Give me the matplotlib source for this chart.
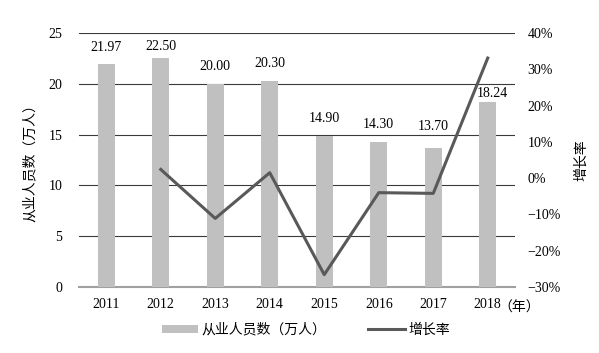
import matplotlib.pyplot as plt
from matplotlib.ticker import FuncFormatter, MultipleLocator
import numpy as np

################################################################################
# Data
################################################################################

years = ['2011', '2012', '2013', '2014', '2015', '2016', '2017', '2018']
employees = [21.97, 22.50, 20.00, 20.30, 14.90, 14.30, 13.70, 18.24]   # 万人
growth = [np.nan, 2.4, -11.1, 1.5, -26.6, -4.0, -4.2, 33.1]           # %

bar_label = '从业人员数（万人）'
line_label = '增长率'

################################################################################
# Style
################################################################################

plt.rcParams['font.family'] = ['Liberation Serif', 'Noto Sans CJK SC']
plt.rcParams['axes.unicode_minus'] = False
FONT = 10

bar_color = '#c0c0c0'
line_color = '#595959'
grid_color = '#3a3a3a'

fig = plt.figure(figsize=(5.99, 3.53), dpi=100)
ax = fig.add_axes([79 / 599, 1 - 287 / 353, 436 / 599, 254 / 353])
ax2 = ax.twinx()

x = np.arange(len(years))

################################################################################
# Bars (left axis)
################################################################################

bars = ax.bar(x, employees, width=0.31, color=bar_color, zorder=3,
              label=bar_label)

# offsets of value labels in points (dx, dy)
label_offsets = [(0, 7), (0, 4), (0, 8), (0, 8), (0, 8), (0, 8), (0, 11),
                 (3, 1.5)]
for xi, v, off in zip(x, employees, label_offsets):
    ax.annotate('{:.2f}'.format(v), (xi, v), xytext=off,
                textcoords='offset points', ha='center', va='bottom',
                fontsize=FONT, zorder=5)

ax.set_xlim(-0.5, len(years) - 0.5)
ax.set_ylim(0, 25)
ax.yaxis.set_major_locator(MultipleLocator(5))
ax.set_xticks(x)
ax.set_xticklabels(years)
ax.grid(axis='y', color=grid_color, linewidth=0.8, zorder=0)
ax.set_axisbelow(True)
ax.tick_params(axis='x', length=0, pad=8, labelsize=FONT)
ax.tick_params(axis='y', length=0, pad=12, labelsize=FONT)
ax.set_ylabel(bar_label, fontsize=FONT, labelpad=8)

for s in ['top', 'left', 'right']:
    ax.spines[s].set_visible(False)
ax.spines['bottom'].set_color('#a0a0a0')
ax.spines['bottom'].set_linewidth(1.5)

ax.text(0.962, -0.058, '（年）', transform=ax.transAxes, ha='left',
        va='top', fontsize=FONT)

################################################################################
# Growth line (right axis)
################################################################################

line, = ax2.plot(x, growth, color=line_color, linewidth=2.2, zorder=4,
                 label=line_label)
ax2.set_ylim(-30, 40)
ax2.yaxis.set_major_locator(MultipleLocator(10))
ax2.yaxis.set_major_formatter(FuncFormatter(
    lambda v, p: ('−' if v < 0 else '') + '{:d}%'.format(int(round(abs(v))))))
ax2.tick_params(axis='y', length=0, pad=9, labelsize=FONT)
ax2.set_ylabel(line_label, fontsize=FONT, labelpad=10)
for s in ['top', 'left', 'right', 'bottom']:
    ax2.spines[s].set_visible(False)

################################################################################
# Legend
################################################################################

fig.legend([bars, line], [bar_label, line_label], loc='center',
           bbox_to_anchor=(306 / 599, 1 - 330 / 353), ncol=2, frameon=False,
           fontsize=FONT, handlelength=2.6, handleheight=0.5,
           columnspacing=3.0, handletextpad=0.3)

plt.savefig('out.png', dpi=100)
